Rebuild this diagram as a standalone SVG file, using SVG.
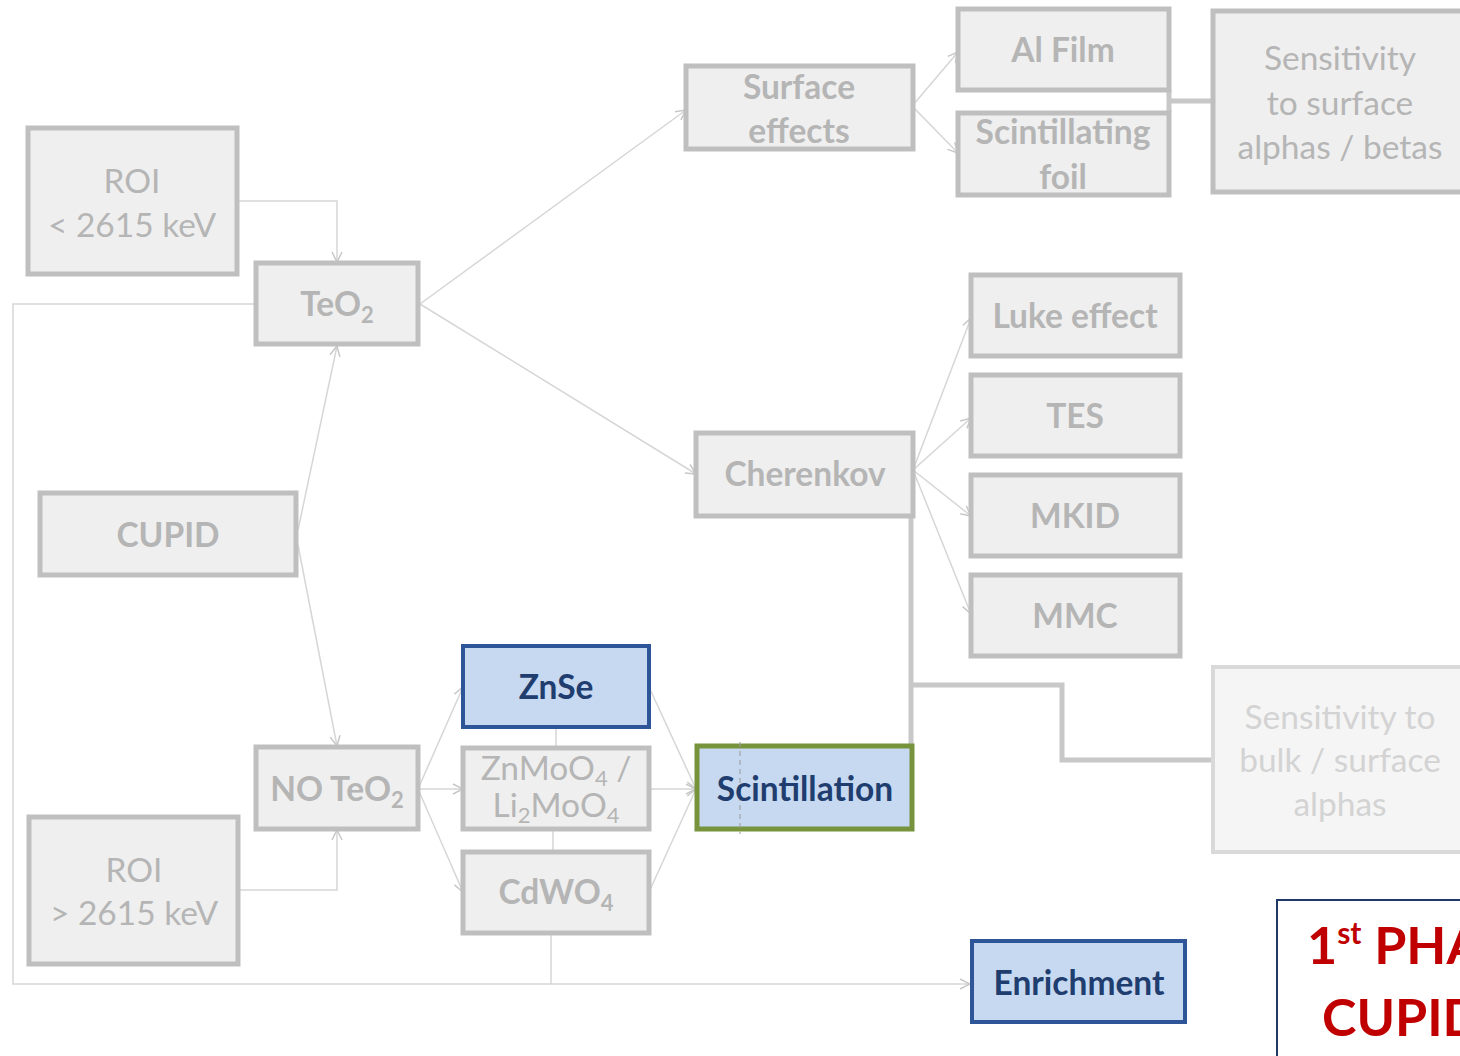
<svg xmlns="http://www.w3.org/2000/svg" width="1460" height="1056" viewBox="0 0 1460 1056">
<defs>
<marker id="arr" viewBox="0 0 12 12" refX="11" refY="6" markerWidth="12" markerHeight="12" markerUnits="userSpaceOnUse" orient="auto">
<path d="M1,1 L11,6 L1,11" fill="none" stroke="#c8c8c8" stroke-width="1.5"/>
</marker>
<style>
.box{fill:#efefef;stroke:#bfbfbf;stroke-width:5}
.lbox{fill:#f5f5f5;stroke:#d9d9d9;stroke-width:4}
.bbox{fill:#c6d9f1;stroke:#2e5597;stroke-width:4}
.t{font-family:Lato,"Liberation Sans",sans-serif;font-size:33.5px;fill:#b5b5b5;text-anchor:middle}
.b{font-weight:bold}
.lt{fill:#d3d3d3}
.bt{fill:#1f3d6e;font-weight:bold}
.c{fill:none;stroke:#d6d6d6;stroke-width:1.5}
.thick{fill:none;stroke:#c8c8c8;stroke-width:5}
.red{font-family:Lato,"Liberation Sans",sans-serif;font-weight:bold;font-size:52px;fill:#c00000}
</style>
</defs>
<rect width="1460" height="1056" fill="#ffffff"/>
<g id="connectors">
<path class="c" d="M237,201 H337 V262" marker-end="url(#arr)"/>
<path class="c" d="M256,304 H13 V984 H970" marker-end="url(#arr)"/>
<path class="c" d="M551,934 V984"/>
<path class="c" d="M298,530 L337,346" marker-end="url(#arr)"/>
<path class="c" d="M298,545 L337,746" marker-end="url(#arr)"/>
<path class="c" d="M238,890 H337 V830" marker-end="url(#arr)"/>
<path class="c" d="M420,304 L686,110" marker-end="url(#arr)"/>
<path class="c" d="M420,304 L696,474" marker-end="url(#arr)"/>
<path class="c" d="M913,105 L958,52" marker-end="url(#arr)"/>
<path class="c" d="M913,107 L958,153" marker-end="url(#arr)"/>
<path class="c" d="M913,470 L971,318" marker-end="url(#arr)"/>
<path class="c" d="M913,470 L971,418" marker-end="url(#arr)"/>
<path class="c" d="M913,470 L971,516" marker-end="url(#arr)"/>
<path class="c" d="M913,470 L971,614" marker-end="url(#arr)"/>
<path class="c" d="M418,789 L463,687" marker-end="url(#arr)"/>
<path class="c" d="M418,789 L463,789" marker-end="url(#arr)"/>
<path class="c" d="M418,789 L463,892" marker-end="url(#arr)"/>
<path class="c" d="M649,687 L696,789" marker-end="url(#arr)"/>
<path class="c" d="M649,789 L696,789" marker-end="url(#arr)"/>
<path class="c" d="M649,892 L696,789" marker-end="url(#arr)"/>
<path class="c" d="M556,727 V747"/>
<path class="c" d="M553,829 V851"/>
<path class="thick" d="M1169,90 V112 M1169,101 H1213"/>
<path class="thick" d="M911,516 V745 M911,685 H1062 V760 H1213"/>
</g>
<g id="roi-low"><rect class="box" x="28" y="128" width="209" height="146"/>
<text class="t" x="132" y="193">ROI</text><text class="t" x="132" y="237">&lt; 2615 keV</text></g>
<g id="teo2"><rect class="box" x="256" y="263" width="162" height="81"/>
<text class="t b" x="337" y="316">TeO<tspan dy="7" font-size="22">2</tspan></text></g>
<g id="cupid"><rect class="box" x="40" y="493" width="256" height="82"/>
<text class="t b" x="168" y="547">CUPID</text></g>
<g id="no-teo2"><rect class="box" x="256" y="747" width="162" height="82"/>
<text class="t b" x="337" y="801">NO TeO<tspan dy="7" font-size="22">2</tspan></text></g>
<g id="roi-high"><rect class="box" x="29" y="817" width="209" height="147"/>
<text class="t" x="134" y="882">ROI</text><text class="t" x="134" y="925">&gt; 2615 keV</text></g>
<g id="surface"><rect class="box" x="686" y="66" width="227" height="83"/>
<text class="t b" x="799" y="99">Surface</text><text class="t b" x="799" y="143">effects</text></g>
<g id="alfilm"><rect class="box" x="958" y="9" width="211" height="81"/>
<text class="t b" x="1063" y="62">Al Film</text></g>
<g id="scintfoil"><rect class="box" x="958" y="113" width="211" height="82"/>
<text class="t b" x="1063" y="144">Scintillating</text><text class="t b" x="1063" y="189">foil</text></g>
<g id="sens-surface"><rect class="box" x="1213" y="11" width="260" height="181"/>
<text class="t" x="1340" y="70">Sensitivity</text><text class="t" x="1340" y="115">to surface</text><text class="t" x="1340" y="159">alphas / betas</text></g>
<g id="luke"><rect class="box" x="971" y="275" width="209" height="81"/>
<text class="t b" x="1075" y="328">Luke effect</text></g>
<g id="tes"><rect class="box" x="971" y="375" width="209" height="81"/>
<text class="t b" x="1075" y="428">TES</text></g>
<g id="mkid"><rect class="box" x="971" y="475" width="209" height="81"/>
<text class="t b" x="1075" y="528">MKID</text></g>
<g id="mmc"><rect class="box" x="971" y="575" width="209" height="81"/>
<text class="t b" x="1075" y="628">MMC</text></g>
<g id="cherenkov"><rect class="box" x="696" y="433" width="217" height="83"/>
<text class="t b" x="805" y="486">Cherenkov</text></g>
<g id="znse"><rect class="bbox" x="463" y="646" width="186" height="81"/>
<text class="t bt" x="556" y="699">ZnSe</text></g>
<g id="znmoo4"><rect class="box" x="463" y="748" width="186" height="81"/>
<text class="t" x="556" y="780">ZnMoO<tspan dy="6" font-size="22">4</tspan><tspan dy="-6"> /</tspan></text>
<text class="t" x="556" y="817">Li<tspan dy="6" font-size="22">2</tspan><tspan dy="-6">MoO</tspan><tspan dy="6" font-size="22">4</tspan></text></g>
<g id="cdwo4"><rect class="box" x="463" y="852" width="186" height="81"/>
<text class="t b" x="556" y="904">CdWO<tspan dy="7" font-size="22">4</tspan></text></g>
<g id="scintillation"><rect x="697" y="746" width="215" height="83" fill="#c6d9f1" stroke="#77933c" stroke-width="5"/>
<line x1="740" y1="742" x2="740" y2="834" stroke="#999" stroke-width="1" stroke-dasharray="5,4"/>
<text class="t bt" x="805" y="801">Scintillation</text></g>
<g id="sens-bulk"><rect class="lbox" x="1213" y="667" width="260" height="185"/>
<text class="t lt" x="1340" y="729">Sensitivity to</text><text class="t lt" x="1340" y="772">bulk / surface</text><text class="t lt" x="1340" y="816">alphas</text></g>
<g id="enrichment"><rect class="bbox" x="972" y="941" width="213" height="81"/>
<text class="t bt" x="1079" y="995">Enrichment</text></g>
<g id="phase"><rect x="1277" y="900" width="200" height="170" fill="#ffffff" stroke="#1f3864" stroke-width="2"/>
<text class="red" x="1307" y="964">1<tspan dy="-20" font-size="30">st</tspan><tspan dy="20"> PHASE</tspan></text>
<text class="red" x="1322" y="1036">CUPID</text></g>
</svg>
